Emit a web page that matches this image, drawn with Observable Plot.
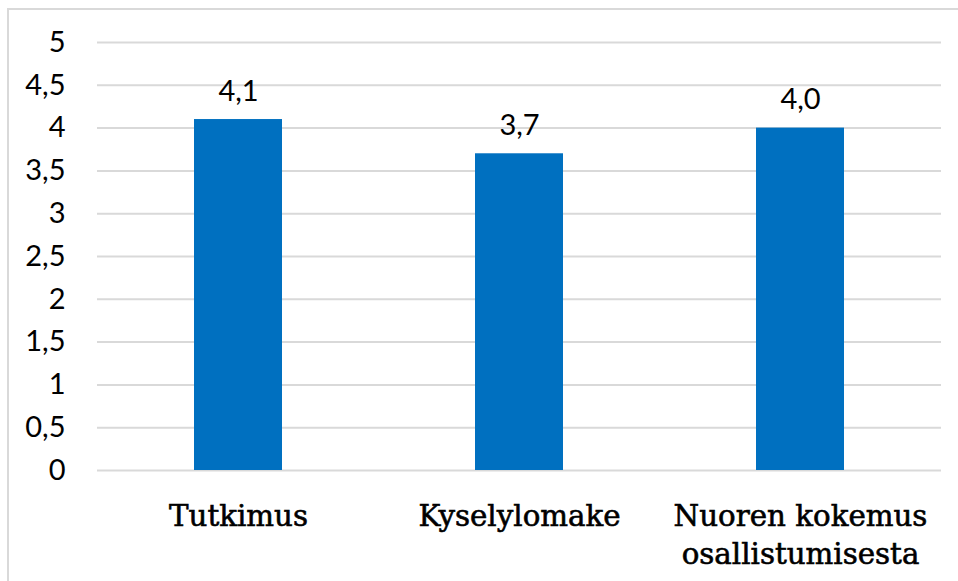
<!DOCTYPE html>
<html>
<head>
<meta charset="utf-8">
<script src="https://cdn.jsdelivr.net/npm/d3@7"></script>
<script src="https://cdn.jsdelivr.net/npm/@observablehq/plot@0.6"></script>
<style>
  html, body { margin: 0; padding: 0; background: #fff; overflow: hidden; width: 958px; height: 581px; }
  #frame { position: absolute; left: 7px; top: 8px; width: 1200px; height: 1200px; border-left: 2px solid #d9d9d9; border-top: 2px solid #d9d9d9; }
  #chart { position: absolute; left: 0; top: 0; }
  g[aria-label="x-axis tick label"] text { stroke: #000; stroke-width: 0.6px; }
</style>
</head>
<body>
<div id="frame"></div>
<div id="chart"></div>
<script>
const categories = ["Tutkimus", "Kyselylomake", "Nuoren kokemus\nosallistumisesta"];
const values = [4.1, 3.7, 4.0];
const valueLabels = ["4,1", "3,7", "4,0"];
const yTicks = [0, 0.5, 1, 1.5, 2, 2.5, 3, 3.5, 4, 4.5, 5];

const data = categories.map((c, i) => ({category: c, value: values[i], label: valueLabels[i]}));

const chart = Plot.plot({
  width: 958,
  height: 581,
  marginLeft: 97,
  marginRight: 17,
  marginTop: 42,
  marginBottom: 111,
  style: {background: "transparent", overflow: "visible"},
  x: {domain: categories, paddingInner: 0.687, paddingOuter: 0.3435, label: null},
  y: {domain: [0, 5], label: null},
  marks: [
    Plot.ruleY(yTicks, {stroke: "#d9d9d9", strokeWidth: 2}),
    Plot.barY(data, {x: "category", y: "value", fill: "#0070C0"}),
    Plot.text(data, {x: "category", y: "value", text: "label", dy: -19, lineAnchor: "bottom",
      fontFamily: "Lato", fontSize: 29, fill: "#000"}),
    Plot.axisY({ticks: yTicks, tickFormat: d => String(d).replace(".", ","), tickSize: 0, tickPadding: 32,
      fontFamily: "Lato", fontSize: 29, fill: "#000", label: null}),
    Plot.axisX({tickSize: 0, tickPadding: 28, fontFamily: "DejaVu Serif", fontSize: 29.3, fill: "#000", label: null,
      lineHeight: 1.3})
  ]
});
document.getElementById("chart").appendChild(chart);
</script>
</body>
</html>
